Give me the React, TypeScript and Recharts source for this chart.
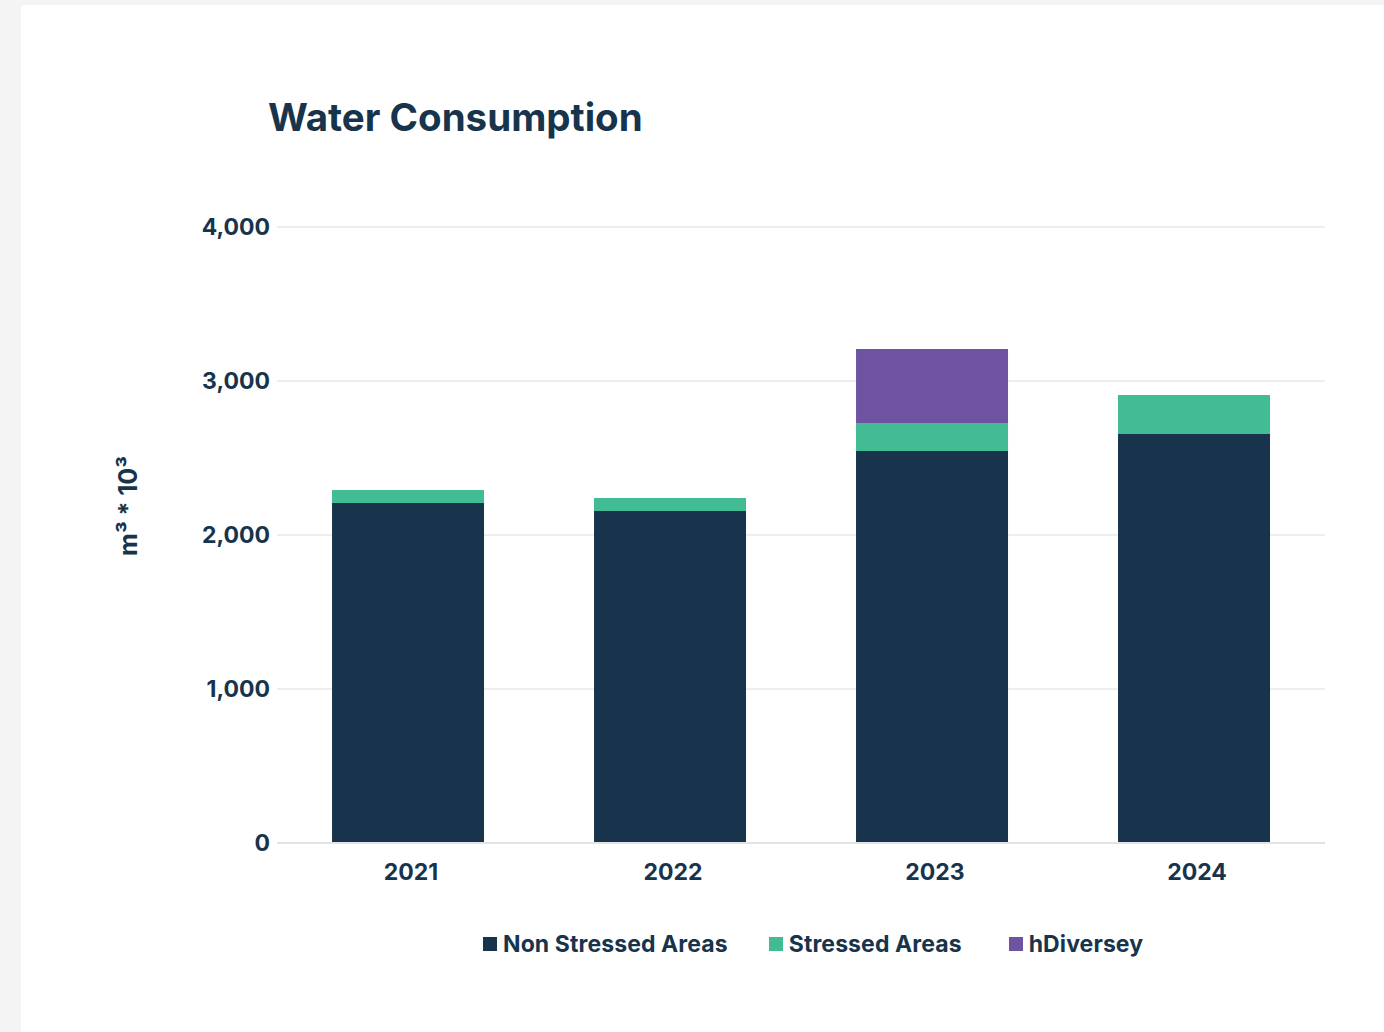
import React from 'react';
import { Bar, BarChart, CartesianGrid, XAxis, YAxis } from 'recharts';

const years = ['2021', '2022', '2023', '2024'];
const nonStressed = [2208, 2156, 2545, 2656];
const stressed = [84, 84, 182, 253];
const hDiversey = [0, 0, 481, 0];
const yTicks = [0, 1000, 2000, 3000, 4000];

const NAVY = '#18344c';
const GREEN = '#42bc94';
const PURPLE = '#6f53a3';
const FONT = 'Inter, "Noto Sans", sans-serif';

const data = years.map((year, i) => ({
  year,
  nonStressed: nonStressed[i],
  stressed: stressed[i],
  hDiversey: hDiversey[i],
}));

const legendItems = [
  { name: 'Non Stressed Areas', color: NAVY, gap: 41 },
  { name: 'Stressed Areas', color: GREEN, gap: 47 },
  { name: 'hDiversey', color: PURPLE, gap: 0 },
];

const App: React.FC = () => {
  return (
    <div style={{ position: 'fixed', left: 0, top: 0, width: 1384, height: 1032, background: '#f4f4f4', overflow: 'hidden' }}>
      <div style={{ position: 'absolute', left: 21, top: 5, width: 1400, height: 1100, background: 'white', borderRadius: 4 }}></div>
      <div
        style={{
          position: 'absolute',
          left: 268,
          top: 94,
          fontFamily: FONT,
          fontSize: 38.5,
          fontWeight: 700,
          color: NAVY,
          whiteSpace: 'nowrap',
        }}
      >
        Water Consumption
      </div>
      {/* y axis title, rotated */}
      <div
        style={{
          position: 'absolute',
          left: 128,
          top: 506,
          transform: 'translate(-50%, -50%) rotate(-90deg)',
          fontFamily: FONT,
          fontSize: 25,
          fontWeight: 700,
          color: NAVY,
          whiteSpace: 'nowrap',
        }}
      >
        m³ * 10³
      </div>
      <div style={{ position: 'absolute', left: 0, top: 0 }}>
        <BarChart
          width={1384}
          height={1032}
          data={data}
          margin={{ top: 227, right: 59, bottom: 159, left: 0 }}
          barCategoryGap="21%"
        >
          <CartesianGrid vertical={false} stroke="#e8e8e8" strokeWidth={1.5} />
          <XAxis
            dataKey="year"
            axisLine={{ stroke: '#e3e3e3', strokeWidth: 2 }}
            tickLine={false}
            tick={{ fill: NAVY, fontSize: 23, fontWeight: 700, fontFamily: FONT }}
            dy={13}
            dx={3}
          />
          <YAxis
            width={277}
            domain={[0, 4000]}
            ticks={yTicks}
            axisLine={false}
            tickLine={false}
            tickFormatter={(v: number) => v.toLocaleString('en-US')}
            tick={{ fill: NAVY, fontSize: 23, fontWeight: 700, fontFamily: FONT }}
            dx={1}
          />
          <Bar dataKey="nonStressed" name="Non Stressed Areas" stackId="a" fill={NAVY} isAnimationActive={false} />
          <Bar dataKey="stressed" name="Stressed Areas" stackId="a" fill={GREEN} isAnimationActive={false} />
          <Bar dataKey="hDiversey" name="hDiversey" stackId="a" fill={PURPLE} isAnimationActive={false} />
        </BarChart>
      </div>
      <div style={{ position: 'absolute', left: 483, top: 930, display: 'flex', alignItems: 'center', fontFamily: FONT }}>
        {legendItems.map((item) => (
          <div key={item.name} style={{ display: 'flex', alignItems: 'center', marginRight: item.gap }}>
            <div style={{ width: 14, height: 14, background: item.color, marginRight: 6 }}></div>
            <span style={{ fontSize: 23, fontWeight: 700, color: NAVY, letterSpacing: 0.1 }}>{item.name}</span>
          </div>
        ))}
      </div>
    </div>
  );
};

export default App;
